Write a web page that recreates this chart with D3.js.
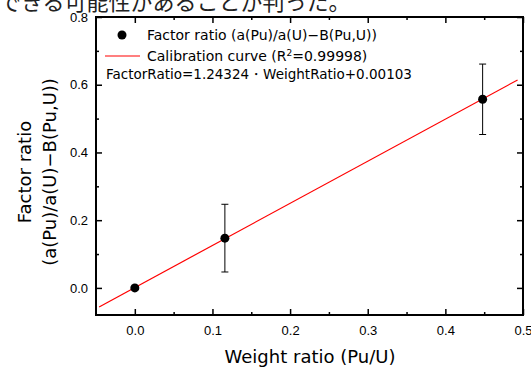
<!DOCTYPE html>
<html>
<head>
<meta charset="utf-8">
<script src="https://cdn.jsdelivr.net/npm/d3@7"></script>
<style>
  body { margin: 0; background: #fff; }
  svg { display: block; }
</style>
</head>
<body>
<div id="chart"></div>
<script>
// data
var weightRatio = [0, 0.116, 0.448];
var factorRatio = [0, 0.147, 0.557];
var errBar = [0, 0.1, 0.104];
var fitSlope = 1.24324;
var fitIntercept = 0.00103;
var fitRange = [-0.046, 0.493];
var xTicks = [0, 0.1, 0.2, 0.3, 0.4, 0.5];
var xMinor = [0.05, 0.15, 0.25, 0.35, 0.45];
var yTicks = [0, 0.2, 0.4, 0.6, 0.8];
var yMinor = [0.1, 0.3, 0.5, 0.7];

var W = 531, H = 367;
var pLeft = 96, pRight = 523, pTop = 17, pBottom = 315;

var svg = d3.select('#chart').append('svg')
	.attr('width', W)
	.attr('height', H);

var x = d3.scaleLinear().domain([-0.05, 0.5]).range([pLeft, pRight]);
var y = d3.scaleLinear().domain([-0.08, 0.8]).range([pBottom, pTop]);

// cropped sentence from the page above
svg.append('text')
	.attr('x', -1)
	.attr('y', 10)
	.attr('font-family', '"Noto Sans CJK JP"')
	.attr('font-size', '22px')
	.attr('fill', '#222')
	.text('できる可能性があることが判った。');

var font = '"DejaVu Sans", sans-serif';

function addAxis(axis, tx, ty) {
	var g = svg.append('g').attr('transform', 'translate(' + tx + ',' + ty + ')').call(axis);
	g.select('.domain').remove();
	g.selectAll('line').attr('stroke', '#000').attr('stroke-width', 1.5);
	g.selectAll('text').attr('font-family', '"Liberation Sans", Arial, sans-serif').attr('font-size', '13px').attr('fill', '#000');
	return g;
}
// major ticks, inward
addAxis(d3.axisBottom(x).tickValues(xTicks).tickSize(-6).tickPadding(11).tickFormat(d3.format('.1f')), 0, pBottom);
addAxis(d3.axisTop(x).tickValues(xTicks).tickSize(-6).tickFormat(''), 0, pTop);
addAxis(d3.axisLeft(y).tickValues(yTicks).tickSize(-6).tickPadding(8).tickFormat(d3.format('.1f')), pLeft, 0);
addAxis(d3.axisRight(y).tickValues(yTicks).tickSize(-6).tickFormat(''), pRight, 0);
// minor ticks
addAxis(d3.axisBottom(x).tickValues(xMinor).tickSize(-3).tickFormat(''), 0, pBottom);
addAxis(d3.axisTop(x).tickValues(xMinor).tickSize(-3).tickFormat(''), 0, pTop);
addAxis(d3.axisLeft(y).tickValues(yMinor).tickSize(-3).tickFormat(''), pLeft, 0);
addAxis(d3.axisRight(y).tickValues(yMinor).tickSize(-3).tickFormat(''), pRight, 0);

// frame
svg.append('rect')
	.attr('x', pLeft)
	.attr('y', pTop)
	.attr('width', pRight - pLeft)
	.attr('height', pBottom - pTop)
	.attr('fill', 'none')
	.attr('stroke', '#000')
	.attr('stroke-width', 2);

// calibration line
svg.append('line')
	.attr('x1', x(fitRange[0]))
	.attr('y1', y(fitSlope * fitRange[0] + fitIntercept))
	.attr('x2', x(fitRange[1]))
	.attr('y2', y(fitSlope * fitRange[1] + fitIntercept))
	.attr('stroke', '#ff0000')
	.attr('stroke-width', 1.2);

// error bars
var pts = weightRatio.map(function(d, i){ return { x: d, y: factorRatio[i], e: errBar[i] }; });
var eb = svg.append('g').selectAll('g')
	.data(pts.filter(function(d){ return d.e > 0; }))
	.enter().append('g')
	.attr('stroke', '#000')
	.attr('stroke-width', 1);
eb.append('line')
	.attr('x1', function(d){ return x(d.x); })
	.attr('x2', function(d){ return x(d.x); })
	.attr('y1', function(d){ return y(d.y - d.e); })
	.attr('y2', function(d){ return y(d.y + d.e); });
eb.append('line')
	.attr('x1', function(d){ return x(d.x) - 3.5; })
	.attr('x2', function(d){ return x(d.x) + 3.5; })
	.attr('y1', function(d){ return y(d.y - d.e); })
	.attr('y2', function(d){ return y(d.y - d.e); });
eb.append('line')
	.attr('x1', function(d){ return x(d.x) - 3.5; })
	.attr('x2', function(d){ return x(d.x) + 3.5; })
	.attr('y1', function(d){ return y(d.y + d.e); })
	.attr('y2', function(d){ return y(d.y + d.e); });

// points
svg.append('g').selectAll('circle')
	.data(pts)
	.enter().append('circle')
	.attr('cx', function(d){ return x(d.x); })
	.attr('cy', function(d){ return y(d.y); })
	.attr('r', 4.5)
	.attr('fill', '#000');

// legend
var leg = svg.append('g').attr('font-family', font).attr('font-size', '14px').attr('fill', '#000');
leg.append('circle').attr('cx', 122).attr('cy', 35).attr('r', 4.5).attr('fill', '#000');
leg.append('text').attr('x', 147).attr('y', 40).text('Factor ratio (a(Pu)/a(U)\u2212B(Pu,U))');
leg.append('line').attr('x1', 105).attr('x2', 140).attr('y1', 56).attr('y2', 56)
	.attr('stroke', '#ff0000').attr('stroke-width', 1.2);
var t2 = leg.append('text').attr('x', 147).attr('y', 61);
t2.append('tspan').text('Calibration curve (R');
t2.append('tspan').attr('font-size', '9px').attr('dy', -5).text('2');
t2.append('tspan').attr('dy', 5).text('=0.99998)');
leg.append('text').attr('x', 106).attr('y', 79).attr('font-size', '13.5px')
	.text('FactorRatio=' + fitSlope + '\u30FB' + 'WeightRatio+' + fitIntercept.toFixed(5));

// axis titles
svg.append('text')
	.attr('x', 310)
	.attr('y', 363)
	.attr('text-anchor', 'middle')
	.attr('font-family', font)
	.attr('font-size', '18px')
	.text('Weight ratio (Pu/U)');

var yt = svg.append('text')
	.attr('transform', 'translate(0,172) rotate(-90)')
	.attr('text-anchor', 'middle')
	.attr('font-family', font)
	.attr('font-size', '18px');
yt.append('tspan').attr('x', 0).attr('y', 31).text('Factor ratio');
yt.append('tspan').attr('x', 0).attr('y', 56).text('(a(Pu)/a(U)\u2212B(Pu,U))');
</script>
</body>
</html>
